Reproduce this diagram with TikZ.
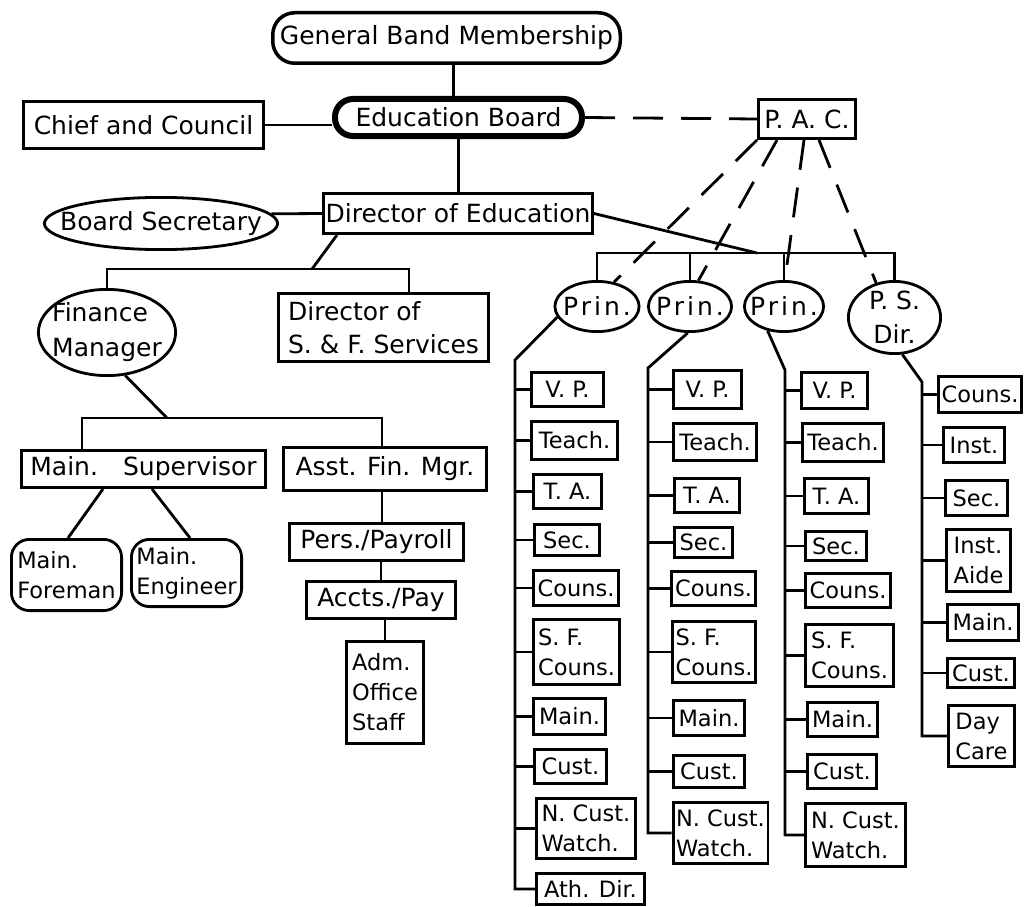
\documentclass[tikz,border=0pt]{standalone}
\usepackage{fontspec}
\setmainfont{DejaVu Sans}
\usetikzlibrary{shapes.geometric,calc}
% one staff box in a school column: name, left, right, top, bottom, text
\newcommand\colbox[6]{%
  \node[itembox, minimum width={#3-#2-2.8}, minimum height={#5-#4-2.8}]
    (#1) at ({(#2+#3)/2},{(#4+#5)/2}) {#6};}
\begin{document}
\begin{tikzpicture}[x=1pt,y=-1pt,line width=2.8pt,
  every node/.style={inner sep=3pt},
  bigfont/.style={font=\fontsize{25}{33}\selectfont},
  smallfont/.style={font=\fontsize{22.5}{30}\selectfont},
  prinfont/.style={font=\fontsize{25}{33}\selectfont\addfontfeature{LetterSpace=12}},
  mainbox/.style={draw, rectangle, align=center, bigfont},
  itembox/.style={draw, rectangle, align=left, smallfont},
  oval/.style={draw, ellipse, inner sep=0pt},
  dashlink/.style={dash pattern=on 30pt off 18pt},
]
\useasboundingbox (0,0) rectangle (1029,907);

% governing bodies
\node[mainbox, line width=3.5pt, rounded corners=22pt, minimum width=347.5, minimum height=50.5] (gbm) at (446.5,38) {General Band Membership};
\node[mainbox, line width=6pt, rounded corners=18pt, minimum width=247, minimum height=37] (eb) at (458.5,117.5) {Education Board};
\node[mainbox, minimum width=240.2, minimum height=47.2] (chief) at (143.5,125) {Chief and Council};
\node[mainbox, minimum width=97.2, minimum height=39.2] (pac) at (807,119) {P. A. C.};
\node[mainbox, inner xsep=2pt, minimum width=269.2, minimum height=40.2] (doe) at (458,213.5) {Director of Education};
\node[oval, minimum width=233.2, minimum height=52.2, label={[bigfont]center:Board Secretary}] (bsec) at (161,223.5) {};

% finance and services
\node[oval, minimum width=137.2, minimum height=86.2,
  label={[font=\fontsize{25}{35}\selectfont, align=left]center:{Finance\\Manager}}] (fin) at (107,332.5) {};
\node[mainbox, align=left, minimum width=210.2, minimum height=68.2] (dsf) at (383.5,327.5) {Director of\\S. \& F. Services};
\node[mainbox, minimum width=244.2, minimum height=37.2] (msup) at (143.5,469) {Main.\quad Supervisor};
\node[mainbox, minimum width=203.2, minimum height=43.2] (afm) at (385,469) {Asst. Fin. Mgr.};
\node[itembox, rounded corners=18pt, minimum width=110.2, minimum height=71.2] (mfor) at (66.5,575) {Main.\\Foreman};
\node[itembox, rounded corners=18pt, minimum width=110.2, minimum height=67.2] (meng) at (186.5,573) {Main.\\Engineer};
\node[mainbox, minimum width=174.2, minimum height=37.2] (pay) at (376.5,542) {Pers./Payroll};
\node[mainbox, minimum width=149.2, minimum height=37.2] (acct) at (381,600) {Accts./Pay};
\node[itembox, minimum width=77.2, minimum height=102.2] (adm) at (385,692.5) {Adm.\\Office\\Staff};

% schools
\node[oval, minimum width=84.2, minimum height=50.2, label={[prinfont]center:Prin.}] (p1) at (597,306.5) {};
\node[oval, minimum width=83.2, minimum height=50.2, label={[prinfont]center:Prin.}] (p2) at (690,306.5) {};
\node[oval, minimum width=79.2, minimum height=50.2, label={[prinfont]center:Prin.}] (p3) at (784,306.5) {};
\node[oval, minimum width=92.2, minimum height=72.2,
  label={[font=\fontsize{25}{34}\selectfont, align=center]center:{P. S.\\Dir.}}] (psd) at (894.5,317.5) {};

% first school
\colbox{c1a}{530}{605}{371}{408}{V. P.}
\colbox{c1b}{530}{619}{420}{461}{Teach.}
\colbox{c1c}{532}{603}{473}{510}{T. A.}
\colbox{c1d}{533}{601}{523}{557}{Sec.}
\colbox{c1e}{532}{620}{569}{607}{Couns.}
\colbox{c1f}{532}{621}{618}{686}{S. F.\\Couns.}
\colbox{c1g}{532}{607}{697}{736}{Main.}
\colbox{c1h}{533}{608}{748}{785}{Cust.}
\colbox{c1i}{535}{637}{797}{860}{N. Cust.\\Watch.}
\colbox{c1j}{535}{646}{872}{906}{Ath. Dir.}

% second school
\colbox{c2a}{672}{743}{369}{410}{V. P.}
\colbox{c2b}{672}{758}{422}{462}{Teach.}
\colbox{c2c}{673}{741}{477}{514}{T. A.}
\colbox{c2d}{673}{734}{526}{559}{Sec.}
\colbox{c2e}{670}{757}{570}{607}{Couns.}
\colbox{c2f}{671}{757}{620}{684}{S. F.\\Couns.}
\colbox{c2g}{672}{746}{699}{737}{Main.}
\colbox{c2h}{672}{746}{754}{789}{Cust.}
\colbox{c2i}{672}{769}{801}{865}{N. Cust.\\Watch.}

% third school
\colbox{c3a}{800}{869}{371}{410}{V. P.}
\colbox{c3b}{801}{885}{422}{463}{Teach.}
\colbox{c3c}{803}{870}{477}{515}{T. A.}
\colbox{c3d}{804}{868}{530}{562}{Sec.}
\colbox{c3e}{804}{892}{572}{609}{Couns.}
\colbox{c3f}{804}{895}{623}{688}{S. F.\\Couns.}
\colbox{c3g}{806}{879}{701}{738}{Main.}
\colbox{c3h}{806}{878}{753}{790}{Cust.}
\colbox{c3i}{804}{907}{802}{868}{N. Cust.\\Watch.}

% preschool
\colbox{c4a}{938}{1022}{375}{414}{Couns.}
\colbox{c4b}{942}{1006}{426}{464}{Inst.}
\colbox{c4c}{944}{1009}{479}{517}{Sec.}
\colbox{c4d}{945}{1012}{528}{593}{Inst.\\Aide}
\colbox{c4e}{946}{1020}{603}{642}{Main.}
\colbox{c4f}{946}{1016}{657}{689}{Cust.}
\colbox{c4g}{947}{1016}{704}{768}{Day\\Care}

% junction points
\coordinate (j1) at (312,269);
\coordinate (j1r) at (409,269);
\coordinate (j2) at (167,418);
\coordinate (j2l) at (82,418);
\coordinate (j2r) at (382,418);
\coordinate (j3) at (757,253);
\coordinate (s1) at (515,360);
\coordinate (s2) at (648,368);
\coordinate (s3) at (785,370);
\coordinate (s4) at (922,382);

% top connectors
\draw ([xshift=-5pt]eb.north) -- ([xshift=-5pt]eb.north |- gbm.south);
\draw (chief.east) -- (chief.east -| eb.west);
\draw[dashlink] (eb.east) -- (pac.west);
\draw (eb.south) -- (eb.south |- doe.north);
\draw (doe.west) -- (bsec.5);

% finance branch
\draw ([xshift=15pt]doe.south west) -- (j1);
\draw (fin.north) -- (fin.north |- j1) -- (j1r) -- (j1r |- dsf.north);
\draw (fin.-67) -- (j2);
\draw (j2l |- msup.north) -- (j2l) -- (j2r) -- (j2r |- afm.north);
\draw ([xshift=-40.5pt]msup.south) -- ([xshift=1.5pt]mfor.north);
\draw ([xshift=8.5pt]msup.south) -- ([xshift=3.5pt]meng.north);
\draw ([xshift=-3pt]afm.south) -- ([xshift=-3pt]afm.south |- pay.north);
\draw (acct.north |- pay.south) -- (acct.north);
\draw (adm.north) -- (adm.north |- acct.south);

% school branch
\draw (doe.east) -- (j3);
\draw (p1.north) |- (psd.north |- j3) -- (psd.north);
\draw (p2.north) -- (p2.north |- j3);
\draw (p3.north) -- (p3.north |- j3);

% advisory links
\draw[dashlink] (pac.south west) -- (p1.55);
\draw[dashlink] ([xshift=20pt]pac.south west) -- (p2.72);
\draw[dashlink] ([xshift=47pt]pac.south west) -- (p3.88);
\draw[dashlink] ([xshift=62pt]pac.south west) -- (psd.118);

% staff spines
\draw (p1.195) -- (s1) |- (c1j.west);
\draw (p2.265) -- (s2) |- (c2i.west);
\draw (p3.236) -- (s3) |- (c3i.west);
\draw (psd.-78) -- (s4) |- (c4g.west);
\foreach \n in {c1a,c1b,c1c,c1d,c1e,c1f,c1g,c1h,c1i}
  \draw (\n.west) -- (\n.west -| s1);
\foreach \n in {c2a,c2b,c2c,c2d,c2e,c2f,c2g,c2h}
  \draw (\n.west) -- (\n.west -| s2);
\foreach \n in {c3a,c3b,c3c,c3d,c3e,c3f,c3g,c3h}
  \draw (\n.west) -- (\n.west -| s3);
\foreach \n in {c4a,c4b,c4c,c4d,c4e,c4f}
  \draw (\n.west) -- (\n.west -| s4);
\end{tikzpicture}
\end{document}
